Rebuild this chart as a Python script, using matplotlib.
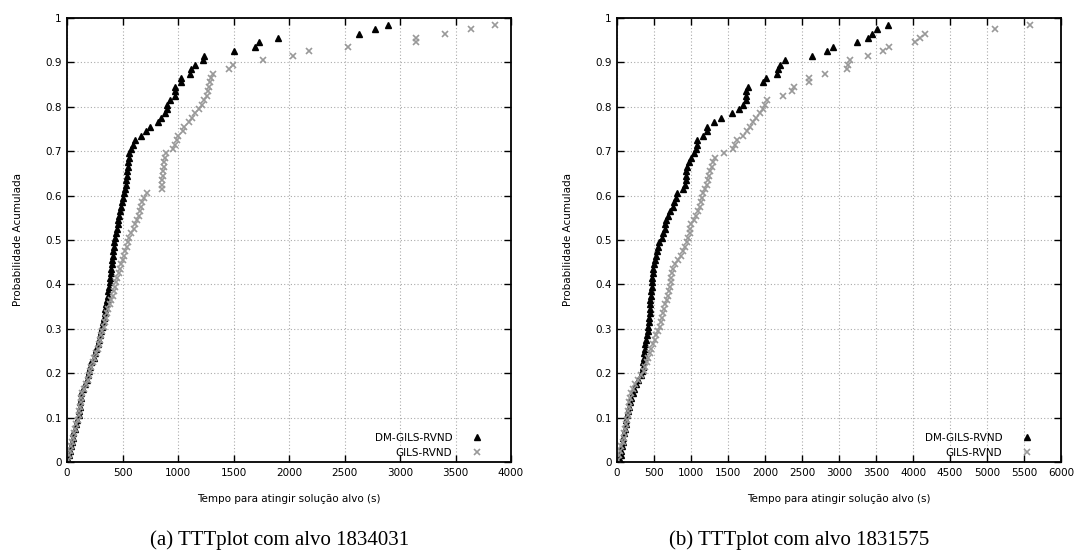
import matplotlib
matplotlib.use("Agg")
import matplotlib.pyplot as plt
from matplotlib.ticker import FuncFormatter, MultipleLocator
import numpy as np

# tempos (s), ordenados; probabilidade acumulada p_k = (k + 0.5) / 100
n_runs = 100

a_dm = [10, 20, 28, 35, 42, 50, 58, 70, 80, 92,
        105, 110, 115, 118, 122, 128, 140, 165, 180, 190,
        200, 205, 215, 240, 255, 265, 275, 285, 295, 305,
        315, 322, 330, 338, 345, 352, 358, 365, 372, 378,
        383, 388, 392, 397, 402, 407, 412, 417, 421, 425,
        432, 440, 448, 455, 463, 470, 478, 486, 494, 500,
        512, 520, 528, 535, 540, 545, 550, 553, 556, 559,
        575, 597, 613, 667, 709, 748, 823, 848, 886, 900,
        903, 927, 969, 969, 972, 1023, 1029, 1108, 1117, 1156,
        1225, 1231, 1502, 1697, 1730, 1904, 2633, 2772, 2889]
a_gils = [12, 22, 30, 38, 45, 52, 62, 72, 85, 95,
          105, 112, 118, 122, 128, 135, 150, 170, 185, 195,
          205, 215, 230, 245, 262, 275, 285, 295, 305, 318,
          330, 340, 350, 360, 372, 385, 398, 410, 420, 428,
          440, 452, 465, 478, 490, 500, 512, 525, 540, 550,
          560, 580, 600, 612, 630, 645, 658, 668, 680, 690,
          720, 853, 855, 858, 862, 866, 870, 875, 882, 890,
          958, 975, 988, 1003, 1048, 1054, 1102, 1123, 1153, 1190,
          1213, 1237, 1258, 1270, 1280, 1290, 1298, 1312, 1459, 1498,
          1769, 2039, 2183, 2535, 3141, 3141, 3408, 3636, 3856]

b_dm = [40, 50, 60, 70, 78, 86, 95, 105, 115, 125,
        135, 150, 165, 180, 195, 210, 230, 260, 290, 320,
        335, 345, 352, 360, 368, 376, 385, 395, 405, 415,
        425, 430, 435, 440, 444, 448, 452, 457, 462, 467,
        472, 478, 485, 493, 502, 512, 525, 540, 555, 570,
        604, 625, 649, 655, 663, 694, 720, 752, 770, 797,
        806, 896, 919, 928, 932, 932, 941, 977, 1000, 1041,
        1068, 1077, 1086, 1167, 1212, 1221, 1316, 1406, 1559, 1654,
        1708, 1740, 1740, 1744, 1776, 1979, 2015, 2159, 2173, 2196,
        2272, 2641, 2844, 2925, 3239, 3396, 3450, 3518, 3658]
b_gils = [15, 30, 45, 60, 75, 90, 100, 110, 120, 132,
          142, 150, 158, 166, 175, 190, 215, 245, 280, 320,
          360, 380, 400, 420, 445, 465, 490, 510, 530, 550,
          575, 590, 610, 625, 640, 655, 670, 685, 700, 712,
          726, 735, 745, 755, 790, 830, 860, 890, 920, 945,
          964, 980, 990, 995, 1040, 1065, 1099, 1115, 1130, 1144,
          1158, 1190, 1210, 1225, 1245, 1262, 1279, 1302, 1330, 1450,
          1572, 1595, 1617, 1707, 1752, 1797, 1842, 1878, 1932, 1968,
          2000, 2023, 2239, 2360, 2392, 2595, 2599, 2811, 3104, 3126,
          3149, 3396, 3590, 3680, 4027, 4095, 4163, 5108, 5581]

captions = ["(a) TTTplot com alvo 1834031", "(b) TTTplot com alvo 1831575"]
xmaxes = [4000, 6000]


def prob(times):
    return (np.arange(len(times)) + 0.5) / n_runs


W, H = 1078, 558
fig = plt.figure(figsize=(W / 100, H / 100), dpi=100)

panels = [(a_dm, a_gils), (b_dm, b_gils)]
lefts = [67, 617]
cap_x = [280, 799]
fmt = FuncFormatter(lambda v, pos: "%g" % v)

for i, (dm, gils) in enumerate(panels):
    ax = fig.add_axes([lefts[i] / W, 96 / H, 444 / W, 444 / H])
    ax.plot(dm, prob(dm), linestyle="none", marker="^", color="black",
            markersize=4.5, label="DM-GILS-RVND")
    ax.plot(gils, prob(gils), linestyle="none", marker="x", color="#999999",
            markersize=4, markeredgewidth=1.2, label="GILS-RVND")
    ax.set_xlim(0, xmaxes[i])
    ax.set_ylim(0, 1)
    ax.xaxis.set_major_locator(MultipleLocator(500))
    ax.yaxis.set_major_locator(MultipleLocator(0.1))
    ax.xaxis.set_major_formatter(fmt)
    ax.yaxis.set_major_formatter(fmt)
    ax.tick_params(direction="in", top=True, right=True, length=5,
                   width=1, labelsize=7.5, pad=4)
    for s in ax.spines.values():
        s.set_linewidth(1.3)
    ax.grid(True, linestyle=(0, (1, 2)), color="#aaaaaa", linewidth=0.8)
    ax.set_axisbelow(True)
    ax.set_xlabel("Tempo para atingir solução alvo (s)", fontsize=7.5, labelpad=12)
    ax.set_ylabel("Probabilidade Acumulada", fontsize=7.5, labelpad=16)
    ax.legend(loc="lower right", bbox_to_anchor=(1 - 19 / 444, 0.0),
              markerfirst=False, frameon=False, fontsize=7.5,
              handletextpad=1.4, labelspacing=0.5, borderaxespad=0,
              handlelength=2)
    fig.text(cap_x[i] / W, 1 - 540 / H, captions[i], ha="center", va="center",
             fontsize=15, family="Liberation Serif")

fig.savefig("out.png", dpi=100)
